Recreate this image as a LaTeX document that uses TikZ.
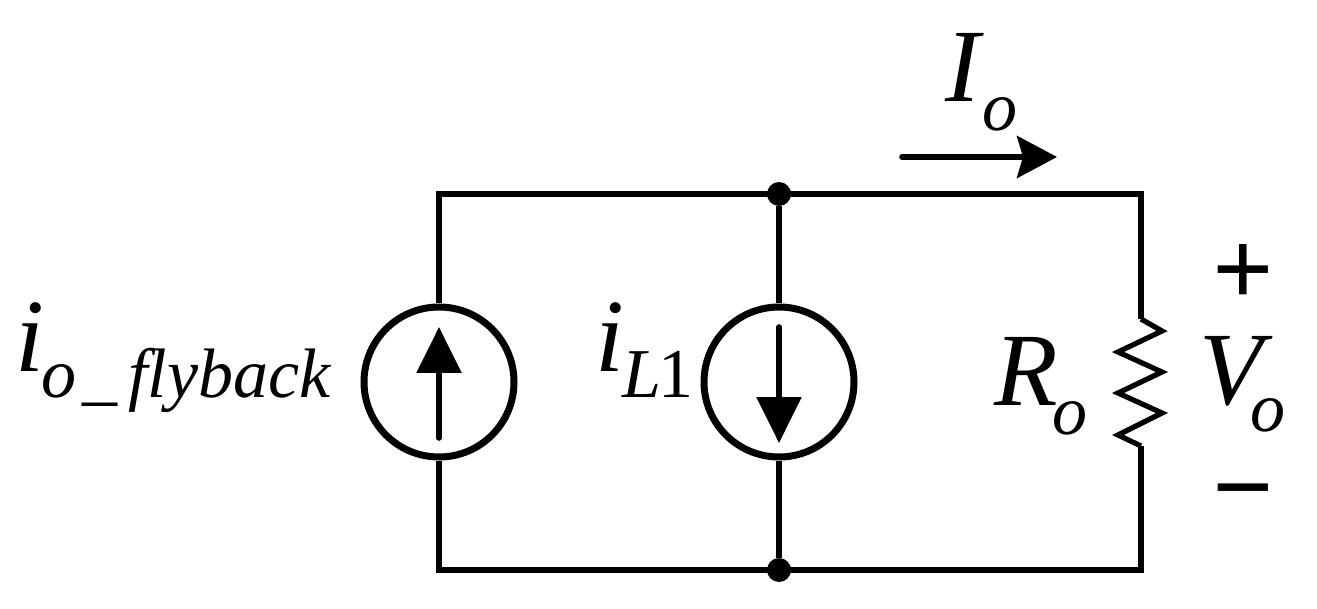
\documentclass[tikz,border=0pt]{standalone}
\usepackage{fontspec}
\setmainfont{Liberation Serif}
\usetikzlibrary{arrows.meta}
\tikzset{
  wire/.style={line width=5.2pt,line join=miter,line cap=butt},
  srcbody/.style={circle,draw,line width=7pt,minimum size=150pt,inner sep=0pt},
  dotnode/.style={circle,fill=black,minimum size=24pt,inner sep=0pt},
  arrowline/.style={line width=5.6pt,line cap=round,-{Triangle[length=46pt,width=44pt,sep=0pt]}},
  ioarrow/.style={line width=5.6pt,line cap=round,-{Stealth[length=40pt,width=42pt,inset=6pt]}},
  big/.style={anchor=base west,inner sep=0pt,font=\fontsize{104}{104}\selectfont\itshape},
  sub/.style={anchor=base west,inner sep=0pt,font=\fontsize{70}{70}\selectfont\itshape},
  signtext/.style={anchor=base,inner sep=0pt,font=\fontsize{108}{108}\selectfont\bfseries}
}
\begin{document}
\begin{tikzpicture}[x=1pt,y=-1pt]
\useasboundingbox (0,0) rectangle (1317,609);
% corners and terminals
\coordinate (tl) at (439,194);
\coordinate (tr) at (1141,194);
\coordinate (bl) at (439,570);
\coordinate (br) at (1141,570);
\coordinate (rt) at (1141,319);
\coordinate (rb) at (1141,446);
% sources and junctions
\node[srcbody] (s1) at (439,382) {};
\node[srcbody] (s2) at (779,382) {};
\node[dotnode] (jt) at (779,194) {};
\node[dotnode] (jb) at (779,570) {};
% wires
\draw[wire] (s1.north) -- (tl) -- (tr) -- (rt);
\draw[wire] (s1.south) -- (bl) -- (br) -- (rb);
\draw[wire] (jt) -- (s2.north);
\draw[wire] (s2.south) -- (jb);
% resistor
\draw[wire] (rt) -- (1162,331) -- (1118,352) -- (1162,372) -- (1118,393) -- (1162,413) -- (1118,435) -- (rb);
% source arrows
\coordinate (a1s) at (439,438);
\coordinate (a1e) at (439,327);
\coordinate (a2s) at (779,327);
\coordinate (a2e) at (779,443);
\draw[arrowline] (a1s) -- (a1e);
\draw[arrowline] (a2s) -- (a2e);
% current arrow
\coordinate (ias) at (902,157);
\coordinate (iae) at (1057,157);
\draw[ioarrow] (ias) -- (iae);
% labels
\node[big] (li) at (15,372) {i};
\node[sub] (lio) at (41,397) {o\hspace{6pt}\_\hspace{11pt}flyback};
\node[big] (lL) at (595,372) {i};
\node[sub] (lLs) at (622,397) {L\hspace{-3pt}\textup{1}};
\node[big] (lI) at (945,102) {I};
\node[sub] (lIo) at (982,131) {o};
\node[big] (lR) at (994,406) {R};
\node[sub] (lRo) at (1052,434) {o};
\node[big] (lV) at (1199,404) {V};
\node[sub] (lVo) at (1250,431) {o};
\node[signtext] (plus) at (1243,306) {+};
\node[signtext] (minus) at (1243,523) {−};
\end{tikzpicture}
\end{document}
